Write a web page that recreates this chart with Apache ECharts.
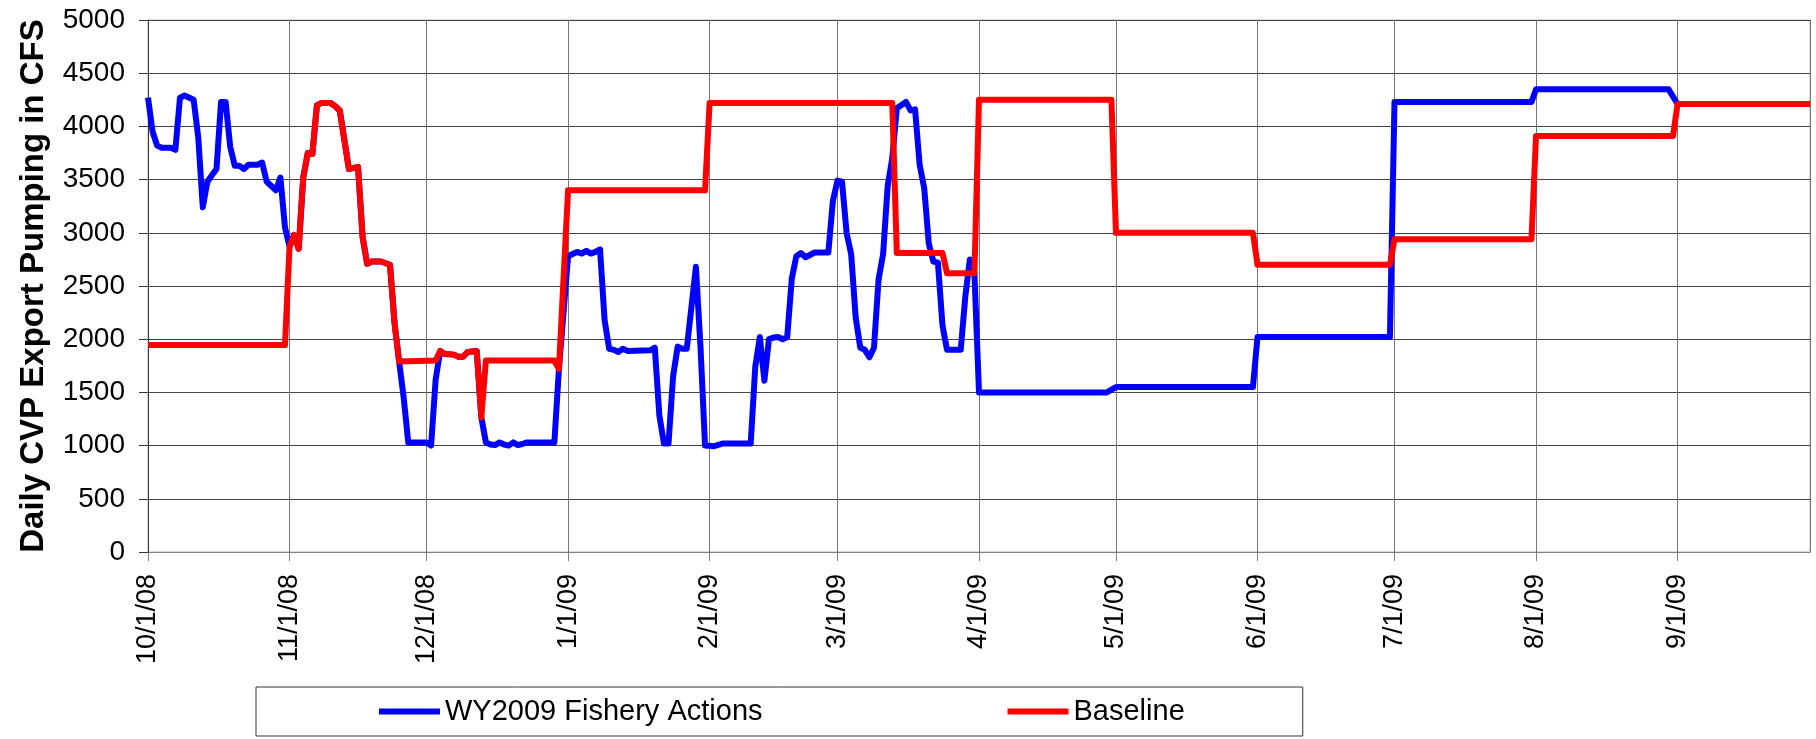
<!DOCTYPE html>
<html>
<head>
<meta charset="utf-8">
<title>Daily CVP Export Pumping</title>
<script src="https://cdn.jsdelivr.net/npm/echarts@6/dist/echarts.min.js"></script>
<style>
  html, body { margin: 0; padding: 0; background: #fff; }
  #chart { width: 1816px; height: 739px; }
</style>
</head>
<body>
<div id="chart"></div>
<script>
// days counted from 10/1/08, values in CFS
const fisheryDays = [
  0, 1, 2, 3, 5, 6, 7, 8, 10, 11, 12, 13, 14, 15, 16, 17, 18, 19, 20, 21, 22, 24, 25, 26, 28, 29, 30,
  31, 32, 33, 34, 35, 36, 37, 38, 40, 41, 42, 44, 46, 47, 48, 49, 51, 53, 54, 55,
  56, 57, 61, 62, 63, 64, 65, 67, 68, 69, 70, 72, 73, 74, 75, 76, 77, 78, 79, 80, 81, 82, 83, 89, 90,
  92, 93, 94, 95, 96, 97, 98, 99, 100, 101, 102, 103, 104, 105, 110, 111, 112, 113, 114, 115, 116, 117, 118,
  120, 121, 122, 124, 126, 132, 133, 134, 135, 136, 137, 138, 139, 140, 141, 142, 143, 144, 146, 149,
  150, 151, 152, 153, 154, 155, 156, 157, 158, 159, 160, 161, 162, 163, 164, 166, 167, 168, 169, 170,
  171, 172, 173, 174, 175, 178, 179, 180, 181, 182, 210, 212, 242, 243, 272, 273, 303, 304, 333, 335, 364
];
const fisheryValues = [
  4270, 3950, 3820, 3800, 3800, 3780, 4270, 4290, 4250, 3900, 3240, 3480, 3540, 3600, 4230, 4230, 3810, 3630, 3630, 3600, 3640, 3640, 3660, 3480, 3400, 3520, 3050,
  2870, 2980, 2850, 3520, 3750, 3740, 4200, 4220, 4220, 4190, 4150, 3600, 3620, 2960, 2710, 2730, 2730, 2700, 2150, 1790,
  1450, 1030, 1030, 1000, 1620, 1890, 1860, 1855, 1835, 1835, 1880, 1890, 1265, 1030, 1010, 1005, 1030, 1010, 1000, 1030, 1005, 1015, 1030, 1030, 1720,
  2780, 2800, 2820, 2805, 2830, 2805, 2820, 2845, 2180, 1910, 1900, 1880, 1910, 1890, 1895, 1920, 1280, 1020, 1020, 1650, 1930, 1910, 1910,
  2680, 1930, 1000, 995, 1020, 1020, 1740, 2020, 1610, 2000, 2015, 2020, 2000, 2020, 2570, 2780, 2810, 2770, 2815, 2815,
  3300, 3490, 3480, 3000, 2800, 2200, 1920, 1900, 1830, 1920, 2560, 2800, 3440, 3700, 4170, 4230, 4150, 4160, 3640, 3420,
  2900, 2730, 2720, 2130, 1900, 1900, 2400, 2750, 2620, 1500, 1500, 1550, 1550, 2020, 2020, 4230, 4230, 4350, 4350, 4210, 4210
];

const baselineDays = [
  0, 30, 31, 32, 33, 34, 35, 36, 37, 38, 40, 41, 42, 44, 46, 47, 48, 49, 51, 53, 54, 55,
  63, 64, 65, 67, 68, 69, 70, 72, 73, 74, 89, 90, 92, 122, 123, 163, 164, 174, 175, 181, 182,
  211, 212, 242, 243, 272, 273, 303, 304, 334, 335, 364
];
const baselineValues = [
  1945, 1945, 2870, 2980, 2850, 3520, 3750, 3740, 4200, 4220, 4220, 4190, 4150, 3600, 3620, 2960, 2710, 2730, 2730, 2700, 2150, 1790,
  1800, 1890, 1860, 1855, 1835, 1835, 1880, 1890, 1265, 1800, 1800, 1720, 3400, 3400, 4220, 4220, 2810, 2810, 2620, 2620, 4250,
  4250, 3000, 3000, 2700, 2700, 2940, 2940, 3910, 3910, 4210, 4210
];

const seriesNames = ['WY2009 Fishery Actions', 'Baseline'];
const yTitle = 'Daily CVP Export Pumping in CFS';

const FONT = '"Liberation Sans", Arial, sans-serif';
const DAY = 86400000;

function dayToTime(n) {
  return new Date(2008, 9, 1 + n).getTime();
}

function toPairs(days, values) {
  return days.map((d, i) => [dayToTime(d), values[i]]);
}

const chart = echarts.init(document.getElementById('chart'));

const option = {
  animation: false,
  textStyle: { fontFamily: FONT },
  grid: {
    left: 148,
    right: 6,
    top: 20,
    bottom: 187,
    show: true,
    borderColor: '#b4b4b4',
    borderWidth: 1,
  },
  legend: {
    left: 256,
    top: 687,
    padding: [10, 118, 10, 123],
    itemGap: 245,
    itemWidth: 61,
    itemHeight: 6,
    icon: 'rect',
    borderColor: '#333',
    borderWidth: 1,
    textStyle: { fontSize: 29, color: '#000', fontFamily: FONT },
    data: seriesNames,
  },
  xAxis: {
    type: 'time',
    min: dayToTime(0),
    max: dayToTime(364),
    splitNumber: 12,
    minInterval: 28 * DAY,
    maxInterval: 31 * DAY,
    axisLine: { show: true, lineStyle: { color: '#808080', width: 1 } },
    axisTick: { show: true, length: 9, lineStyle: { color: '#808080' } },
    axisLabel: {
      rotate: 90,
      margin: 22,
      fontSize: 27,
      color: '#000',
      fontFamily: FONT,
      showMaxLabel: false,
      formatter: (v) => {
        const d = new Date(v);
        return (d.getMonth() + 1) + '/' + d.getDate() + '/' + String(d.getFullYear()).slice(2);
      },
    },
    splitLine: { show: true, lineStyle: { color: '#777', width: 1 } },
  },
  yAxis: {
    type: 'value',
    min: 0,
    max: 5000,
    interval: 500,
    name: yTitle,
    nameLocation: 'middle',
    nameGap: 98,
    nameTextStyle: { fontSize: 33, fontWeight: 'bold', color: '#000', fontFamily: FONT },
    axisLine: { show: true, lineStyle: { color: '#333' } },
    axisTick: { show: true, length: 9, lineStyle: { color: '#333' } },
    axisLabel: { margin: 23, fontSize: 28, color: '#000', fontFamily: FONT, formatter: (v) => String(v) },
    splitLine: { show: true, lineStyle: { color: '#444', width: 1 } },
  },
  series: [
    {
      name: seriesNames[0],
      type: 'line',
      data: toPairs(fisheryDays, fisheryValues),
      symbol: 'none',
      lineStyle: { color: '#0000ff', width: 6, join: 'round' },
      itemStyle: { color: '#0000ff' },
    },
    {
      name: seriesNames[1],
      type: 'line',
      data: toPairs(baselineDays, baselineValues),
      symbol: 'none',
      lineStyle: { color: '#ff0000', width: 6, join: 'round' },
      itemStyle: { color: '#ff0000' },
    },
  ],
};

chart.setOption(option);
</script>
</body>
</html>
